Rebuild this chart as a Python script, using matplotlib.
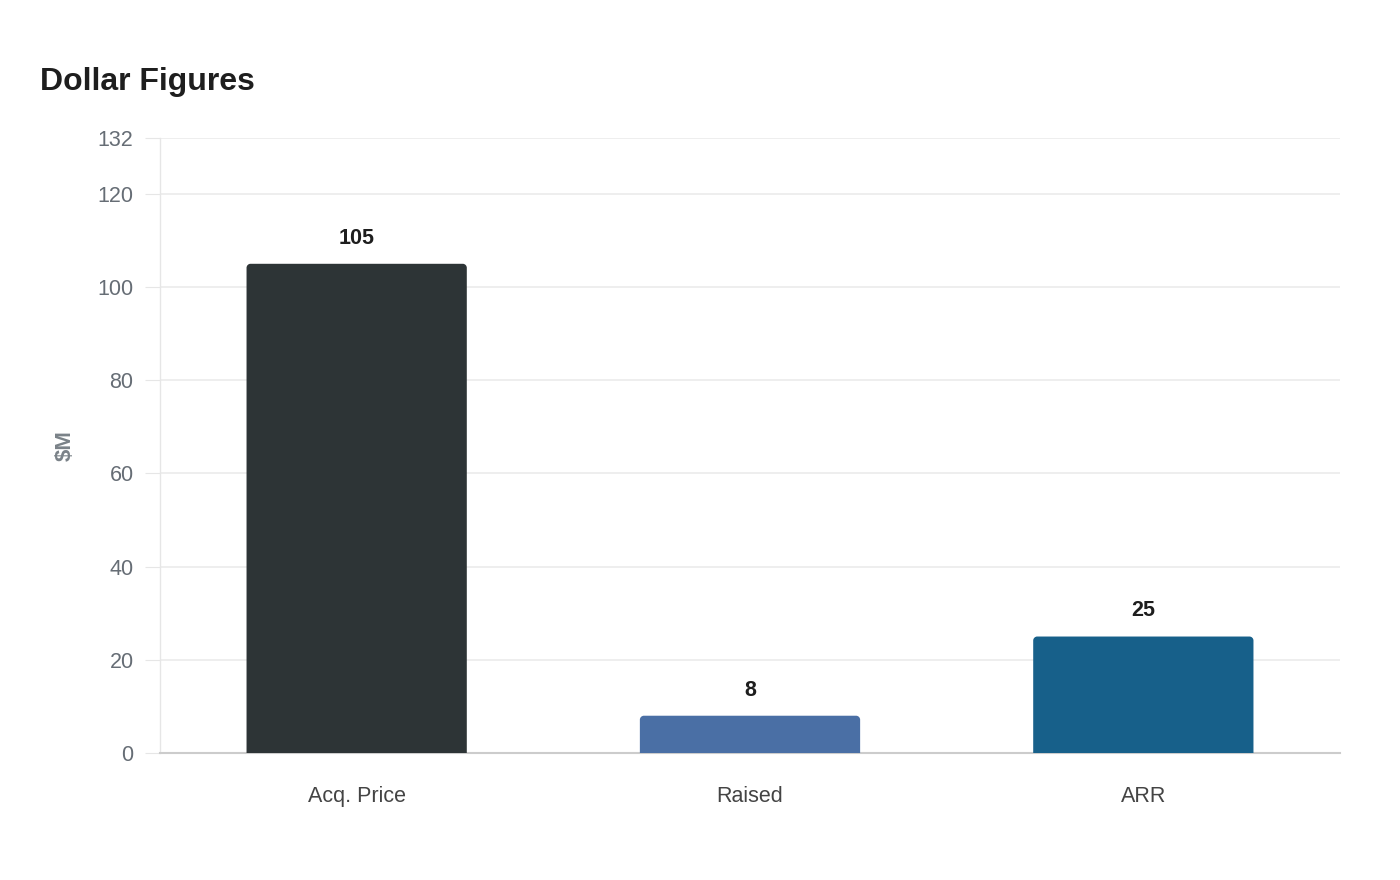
import numpy as np
import matplotlib
matplotlib.use("Agg")
import matplotlib.pyplot as plt
from matplotlib.path import Path
from matplotlib.patches import PathPatch

plt.rcParams['font.family'] = ['Liberation Sans', 'DejaVu Sans']

# Data
categories = ["Acq. Price", "Raised", "ARR"]
values = [105, 8, 25]
bar_colors = ["#2d3436", "#4a6fa5", "#17608a"]
y_ticks = [0, 20, 40, 60, 80, 100, 120, 132]

fig = plt.figure(figsize=(14, 8.8), dpi=100)
ax = fig.add_axes([160 / 1400, 1 - 753 / 880, 1180 / 1400, 615 / 880])

ax.set_xlim(-0.5, len(categories) - 0.5)
ax.set_ylim(0, 132)

bar_width = 0.56
radius_px = 4

# pixel -> data conversions for the corner radius
bbox = ax.get_window_extent()
rx = radius_px * (len(categories)) / bbox.width
ry = radius_px * 132 / bbox.height
k = 0.5523


def rounded_top_bar(x0, x1, h, color):
    verts = [
        (x0, 0), (x0, h - ry),
        (x0, h - ry + k * ry), (x0 + rx - k * rx, h), (x0 + rx, h),
        (x1 - rx, h),
        (x1 - rx + k * rx, h), (x1, h - ry + k * ry), (x1, h - ry),
        (x1, 0), (x0, 0),
    ]
    codes = [Path.MOVETO, Path.LINETO,
             Path.CURVE4, Path.CURVE4, Path.CURVE4,
             Path.LINETO,
             Path.CURVE4, Path.CURVE4, Path.CURVE4,
             Path.LINETO, Path.CLOSEPOLY]
    patch = PathPatch(Path(verts, codes), facecolor=color, edgecolor="none", zorder=3)
    ax.add_patch(patch)


for i, (v, c) in enumerate(zip(values, bar_colors)):
    rounded_top_bar(i - bar_width / 2, i + bar_width / 2, v, c)
    ax.annotate(f"{v}", (i, v), xytext=(0, 18.5), textcoords="offset points",
                ha="center", va="center", fontsize=15.5, fontweight="bold",
                color="#1e1e1e")

# Axes styling
ax.set_yticks(y_ticks)
ax.set_yticklabels([str(t) for t in y_ticks])
ax.set_xticks(range(len(categories)))
ax.set_xticklabels(categories)
ax.grid(axis="y", color="#ebebeb", linewidth=1.2, zorder=0)
ax.set_axisbelow(True)

for side in ["top", "right"]:
    ax.spines[side].set_visible(False)
ax.spines["left"].set_color("#e6e6e6")
ax.spines["left"].set_linewidth(1)
ax.spines["bottom"].set_color("#cccccc")
ax.spines["bottom"].set_linewidth(1.5)

ax.tick_params(axis="y", length=11, color="#e6e6e6", labelsize=15.5,
               labelcolor="#666d75", pad=8)
ax.tick_params(axis="x", length=0, labelsize=15.5, labelcolor="#444444", pad=24)

ax.set_ylabel("$M", fontsize=16, fontweight="bold", color="#7a8288")
ax.yaxis.set_label_coords(-84 / 1180, 0.5)

fig.text(40 / 1400, 1 - 90 / 880, "Dollar Figures", fontsize=23, fontweight="bold",
         color="#1e1e1e", ha="left", va="baseline")

fig.savefig("out.png", dpi=100, facecolor="white")
